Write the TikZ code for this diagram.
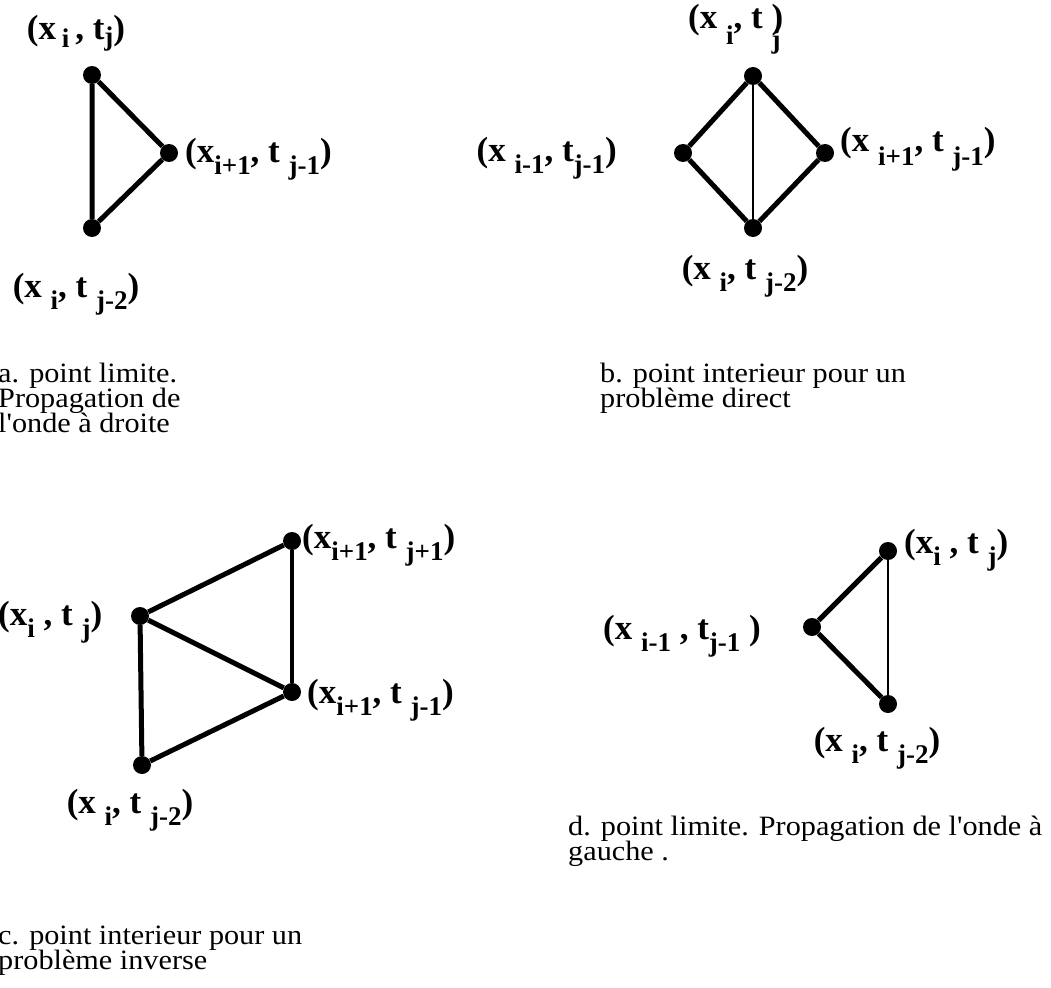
\documentclass[tikz,border=0pt]{standalone}
\usepackage{fontspec}
\setmainfont{Liberation Serif}
\newfontfamily\capfam[FakeStretch=1.08]{Liberation Serif}
\newcommand\lsub[2][12pt]{\raisebox{-#1}{\fontsize{27}{27}\selectfont #2}}
\newcommand\captfont{\capfam\fontsize{28}{25}\selectfont\lineskiplimit=-60pt\relax\lineskip=0pt\relax}
\begin{document}
\begin{tikzpicture}[x=1pt,y=-1pt,
  dot/.style={circle,fill=black,inner sep=0pt,minimum size=18pt},
  thickln/.style={line width=5pt},
  thinln/.style={line width=2.5pt},
  lbl/.style={font=\fontsize{35}{35}\selectfont\bfseries,inner sep=0pt},
  captxt/.style={font=\captfont,align=left,inner sep=0pt,anchor=base west}]
\useasboundingbox (0,0) rectangle (1051,987);
% ---- a ----
\node[dot] (a1) at (92,75) {};
\node[dot] (a2) at (169,153) {};
\node[dot] (a3) at (92,228) {};
\draw[thickln] (a1) -- (a2) -- (a3) -- (a1);
\node[lbl,anchor=base] (la1) at (76,40) {(x\,\lsub[8pt]{i}\,, t\lsub[6pt]{j})};
\node[lbl,anchor=base west] (la2) at (185,163) {(x\lsub{i+1}, t \lsub{j-1})};
\node[lbl,anchor=base] (la3) at (76,297) {(x \lsub{i}, t \lsub{j-2})};
\node[captxt] (ca) at (-2,432) {a. point limite.\\Propagation de\\l'onde \`a droite};
% ---- b ----
\node[dot] (b1) at (753,76) {};
\node[dot] (b2) at (683,153) {};
\node[dot] (b3) at (825,153) {};
\node[dot] (b4) at (753,228) {};
\draw[thickln] (b1) -- (b2) -- (b4) -- (b3) -- (b1);
\draw[thinln] (b1) -- (b4);
\node[lbl,anchor=base west] (lb1) at (688,29) {(x \lsub[16pt]{i}, t\ \rlap{\lsub[20pt]{j}})};
\node[lbl,anchor=base east] (lb2) at (617,162) {(x \lsub{i-1}, t\lsub{j-1})};
\node[lbl,anchor=base west] (lb3) at (840,152) {(x \lsub[14pt]{i+1}, t \lsub[14pt]{j-1})};
\node[lbl,anchor=base] (lb4) at (745,279) {(x \lsub{i}, t \lsub{j-2})};
\node[captxt] (cb) at (600,407) {b. point interieur pour un\\probl\`eme direct};
% ---- c ----
\node[dot] (c1) at (292,541) {};
\node[dot] (c2) at (140,616) {};
\node[dot] (c3) at (292,692) {};
\node[dot] (c4) at (142,765) {};
\draw[thickln] (c2) -- (c1);
\draw[thickln] (c2) -- (c3);
\draw[thickln] (c2) -- (c4) -- (c3);
\draw[line width=4pt] (c1) -- (c3);
\node[lbl,anchor=base west] (lc1) at (302,548) {(x\lsub{i+1}, t \lsub{j+1})};
\node[lbl,anchor=base west] (lc2) at (-2,625) {(x\lsub{i} , t \lsub{j})};
\node[lbl,anchor=base west] (lc3) at (307,703) {(x\lsub{i+1}, t \lsub{j-1})};
\node[lbl,anchor=base] (lc4) at (130,813) {(x \lsub{i}, t \lsub{j-2})};
\node[captxt] (cc) at (-2,969) {c. point interieur pour un\\probl\`eme inverse};
% ---- d ----
\node[dot] (d1) at (888,551) {};
\node[dot] (d2) at (812,627) {};
\node[dot] (d3) at (888,704) {};
\draw[thickln] (d1) -- (d2) -- (d3);
\draw[thinln] (d1) -- (d3);
\node[lbl,anchor=base west] (ld1) at (904,553) {(x\lsub{i} , t \lsub{j})};
\node[lbl,anchor=base] (ld2) at (682,639) {(x \lsub{i-1} , t\lsub{j-1} )};
\node[lbl,anchor=base] (ld3) at (877,751) {(x \lsub{i}, t \lsub{j-2})};
\node[captxt] (cd) at (568,860) {d. point limite. Propagation de l'onde \`a\\gauche .};
\end{tikzpicture}
\end{document}
